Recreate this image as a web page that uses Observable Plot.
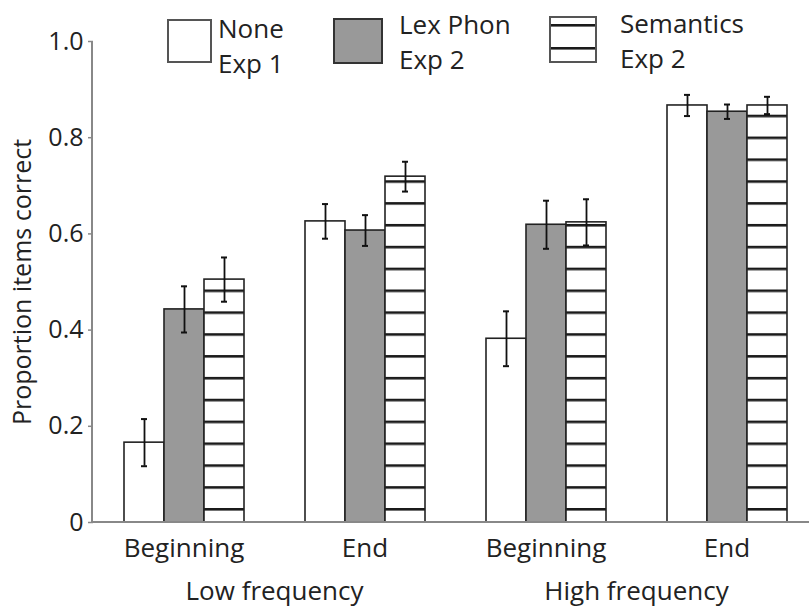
<!DOCTYPE html>
<html>
<head>
<meta charset="utf-8">
<script src="https://cdn.jsdelivr.net/npm/d3@7"></script>
<script src="https://cdn.jsdelivr.net/npm/@observablehq/plot@0.6"></script>
<style>
  html, body { margin: 0; padding: 0; background: #fff; overflow: hidden; }
  #wrap { position: relative; width: 809px; height: 615px; overflow: hidden; }
  #legend { position: absolute; left: 0; top: 0; pointer-events: none; }
  #legend text { font-family: "Open Sans", sans-serif; font-size: 26px; fill: #222; }
</style>
</head>
<body>
<div id="wrap">
  <div id="chart"></div>
  <svg id="legend" width="809" height="90">
    <defs>
      <pattern id="legHatch" patternUnits="userSpaceOnUse" x="0" y="1" width="10" height="23">
        <rect width="10" height="23" fill="#fff"></rect>
        <rect y="0" width="10" height="2.6" fill="#1a1a1a"></rect>
      </pattern>
    </defs>
    <rect x="168" y="20" width="43" height="42" fill="#fff" stroke="#555" stroke-width="2"></rect>
    <text x="218" y="38">None</text>
    <text x="218" y="73">Exp 1</text>
    <rect x="334" y="19" width="48" height="44" fill="#999" stroke="#333" stroke-width="2"></rect>
    <text x="399" y="34">Lex Phon</text>
    <text x="399" y="69">Exp 2</text>
    <rect x="550" y="17" width="46" height="45" fill="url(#legHatch)" stroke="#555" stroke-width="2"></rect>
    <text x="620" y="33">Semantics</text>
    <text x="620" y="68">Exp 2</text>
  </svg>
</div>
<script>
// ---- data ----
const groups = ["Low|Beginning", "Low|End", "High|Beginning", "High|End"];
const conditions = ["None Exp 1", "Lex Phon Exp 2", "Semantics Exp 2"];
const noneVals = [0.166, 0.626, 0.382, 0.867];
const noneErr  = [0.049, 0.036, 0.057, 0.022];
const lexVals  = [0.443, 0.607, 0.619, 0.854];
const lexErr   = [0.048, 0.032, 0.050, 0.015];
const semVals  = [0.505, 0.719, 0.624, 0.867];
const semErr   = [0.046, 0.031, 0.048, 0.018];
const yTicks = [0, 0.2, 0.4, 0.6, 0.8, 1.0];
const freqGroups = ["Low|Beginning", "High|Beginning"];
const freqLabels = ["Low frequency", "High frequency"];

// ---- build table ----
const series = [[noneVals, noneErr], [lexVals, lexErr], [semVals, semErr]];
const rows = [];
conditions.forEach((c, ci) => {
  groups.forEach((g, gi) => {
    rows.push({group: g, condition: c, value: series[ci][0][gi], err: series[ci][1][gi]});
  });
});
const freq = freqGroups.map((g, i) => ({group: g, label: freqLabels[i]}));

const fills = {"None Exp 1": "#ffffff", "Lex Phon Exp 2": "#999999", "Semantics Exp 2": "url(#hatch)"};

const plot = Plot.plot({
  width: 817,
  height: 615,
  marginTop: 41,
  marginBottom: 93,
  marginLeft: 92,
  marginRight: 0,
  style: {fontFamily: "'Open Sans', sans-serif", fontSize: "25px", color: "#222", background: "transparent",
          overflow: "visible", maxWidth: "none", height: "615px", width: "817px"},
  fx: {domain: groups, padding: 0, label: null},
  x: {domain: conditions, paddingInner: 0, paddingOuter: 0.75, axis: null},
  y: {domain: [0, 1], axis: null},
  marks: [
    Plot.axisY({ticks: yTicks, tickFormat: d => d === 0 ? "0" : d.toFixed(1), tickSize: 5, tickPadding: 5,
      stroke: "#888", strokeWidth: 1.5, fontSize: 25,
      label: "Proportion items correct", labelAnchor: "center", labelArrow: "none", labelOffset: 80}),
    Plot.axisFx({anchor: "bottom", tickSize: 0, tickPadding: 16, tickFormat: d => d.split("|")[1], label: null, fontSize: 26}),
    ...conditions.map(c => Plot.barY(rows.filter(r => r.condition === c), {
      fx: "group", x: "condition", y: "value", fill: fills[c], stroke: "#222", strokeWidth: 1.6
    })),
    Plot.ruleX(rows, {fx: "group", x: "condition", y1: d => d.value - d.err, y2: d => d.value + d.err, stroke: "#111", strokeWidth: 1.8}),
    Plot.tickY(rows, {fx: "group", x: "condition", y: d => d.value - d.err, insetLeft: 17, insetRight: 17, stroke: "#111", strokeWidth: 2}),
    Plot.tickY(rows, {fx: "group", x: "condition", y: d => d.value + d.err, insetLeft: 17, insetRight: 17, stroke: "#111", strokeWidth: 2}),
    Plot.text(freq, {fx: "group", text: "label", frameAnchor: "bottom-right", dx: 0, dy: 77, textAnchor: "middle", fontSize: 26})
  ]
});

document.getElementById("chart").appendChild(plot);

// hatch pattern for the Semantics bars, aligned to the y scale's baseline
const yScale = plot.scale("y");
const y0 = yScale.apply(0);
const yTop = yScale.apply(1);
const svg = d3.select(plot);
const period = 21.85;
svg.insert("defs", ":first-child").html(
  `<pattern id="hatch" patternUnits="userSpaceOnUse" x="0" y="${y0 - 12.7 - 1.3}" width="10" height="${period}">
     <rect width="10" height="${period}" fill="#fff"></rect>
     <rect y="0" width="10" height="2.6" fill="#1a1a1a"></rect>
   </pattern>`
);
// axis lines
svg.append("line").attr("x1", 92).attr("x2", 92).attr("y1", yTop).attr("y2", y0 + 1)
  .attr("stroke", "#888").attr("stroke-width", 2);
svg.append("line").attr("x1", 91).attr("x2", 817).attr("y1", y0).attr("y2", y0)
  .attr("stroke", "#888").attr("stroke-width", 2);
</script>
</body>
</html>
